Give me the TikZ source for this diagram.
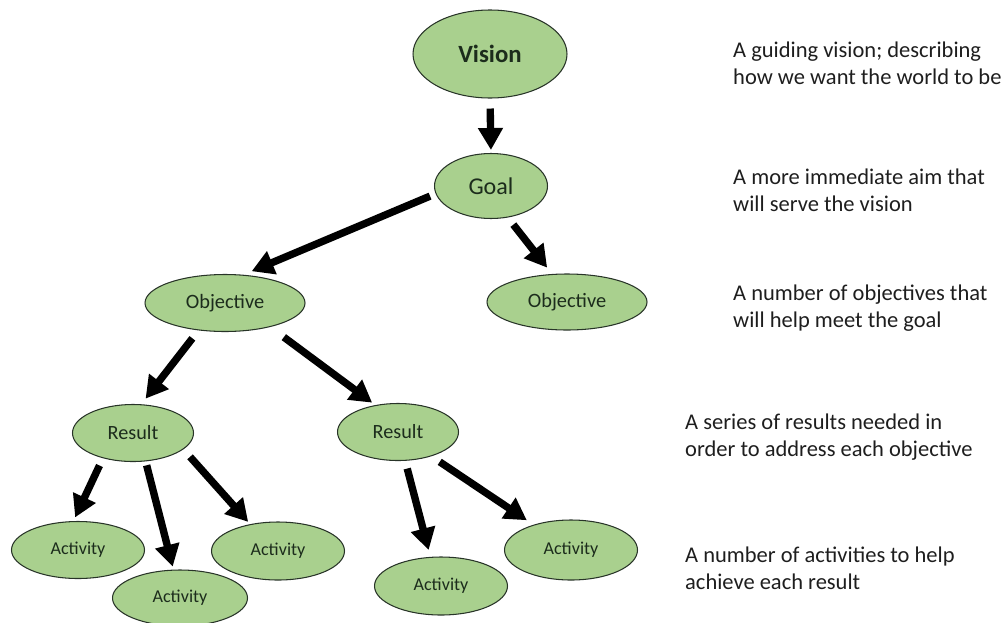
\documentclass[tikz,border=0pt]{standalone}
\usepackage{fontspec}
\setmainfont{Carlito}
\usetikzlibrary{arrows.meta,shapes.geometric}
\definecolor{nodefill}{RGB}{169,208,142}
\definecolor{nodeline}{RGB}{40,52,40}
\definecolor{nodetext}{RGB}{28,44,28}
\definecolor{notetext}{RGB}{30,30,30}

\begin{document}
\begin{tikzpicture}[>={Triangle[length=12.5pt,width=13.5pt]},
   bub/.style={ellipse, draw=nodeline, line width=0.6pt, fill=nodefill,
               text=nodetext, inner sep=0pt},
   arr/.style={->, line width=4.2pt},
   note/.style={anchor=west, align=left, text=notetext,
                font=\fontsize{12.8}{15.4}\selectfont}]
  \useasboundingbox (0,0) rectangle (20.04,-12.44);
  % hierarchy
  \node[bub, minimum width=30.8mm, minimum height=17.6mm,
        font=\fontsize{14.1}{16}\selectfont\bfseries] (vis) at (9.8,-1.08) {Vision};
  \node[bub, minimum width=22.6mm, minimum height=13mm,
        font=\fontsize{13.7}{16}\selectfont] (goal) at (9.82,-3.72) {Goal};
  \node[bub, minimum width=32mm, minimum height=11.4mm,
        font=\fontsize{11.6}{14}\selectfont] (obja) at (4.5,-6.06) {Objective};
  \node[bub, minimum width=32mm, minimum height=11.2mm,
        font=\fontsize{11.6}{14}\selectfont] (objb) at (11.34,-6.04) {Objective};
  \node[bub, minimum width=24.2mm, minimum height=11.4mm,
        font=\fontsize{11.5}{14}\selectfont] (resa) at (2.66,-8.66) {Result};
  \node[bub, minimum width=24.2mm, minimum height=11.4mm,
        font=\fontsize{11.5}{14}\selectfont] (resb) at (7.96,-8.64) {Result};
  \node[bub, minimum width=26.6mm, minimum height=11.4mm,
        font=\fontsize{10.3}{12}\selectfont] (acta) at (1.56,-11.0) {Activity};
  \node[bub, minimum width=27mm, minimum height=11.2mm,
        font=\fontsize{10.3}{12}\selectfont] (actb) at (3.6,-11.96) {Activity};
  \node[bub, minimum width=26.6mm, minimum height=11.6mm,
        font=\fontsize{10.3}{12}\selectfont] (actc) at (5.56,-11.02) {Activity};
  \node[bub, minimum width=26.6mm, minimum height=11.6mm,
        font=\fontsize{10.3}{12}\selectfont] (actd) at (8.82,-11.72) {Activity};
  \node[bub, minimum width=26.6mm, minimum height=12mm,
        font=\fontsize{10.3}{12}\selectfont] (acte) at (11.42,-11.0) {Activity};

  \draw[arr, shorten <=2mm, shorten >=0.6mm] (vis.south) -- (goal.north);
  \draw[arr, shorten <=1.2mm, shorten >=1.8mm] (goal.188) -- (obja.57);
  \draw[arr, shorten <=1.8mm, shorten >=1.6mm] (goal.-62) -- (objb.118);
  \draw[arr, shorten <=2mm, shorten >=1.4mm] (obja.226) -- (resa.74);
  \draw[arr, shorten <=3.4mm, shorten >=0.8mm] (obja.-28) -- (resb.130);
  \draw[arr, shorten <=1.6mm, shorten >=0.8mm] (resa.220) -- (acta.99);
  \draw[arr, shorten <=0.8mm, shorten >=0.6mm] (resa.-66) -- (actb.103);
  \draw[arr, shorten <=2mm, shorten >=0.6mm] (resa.-18) -- (actc.136);
  \draw[arr, shorten <=1.6mm, shorten >=1.4mm] (resb.-76) -- (actd.110);
  \draw[arr, shorten <=2mm, shorten >=1.6mm] (resb.-36) -- (acte.146);

  % descriptions
  \node[note] (txtvis) at (14.54,-1.27) {A guiding vision; describing\\how we want the world to be};
  \node[note] (txtgoal) at (14.54,-3.81) {A more immediate aim that\\will serve the vision};
  \node[note] (txtobj) at (14.54,-6.17) {A number of objectives that\\will help meet the goal};
  \node[note] (txtres) at (13.58,-8.74) {A series of results needed in\\order to address each objective};
  \node[note] (txtact) at (13.58,-11.37) {A number of activities to help\\achieve each result};
\end{tikzpicture}
\end{document}
